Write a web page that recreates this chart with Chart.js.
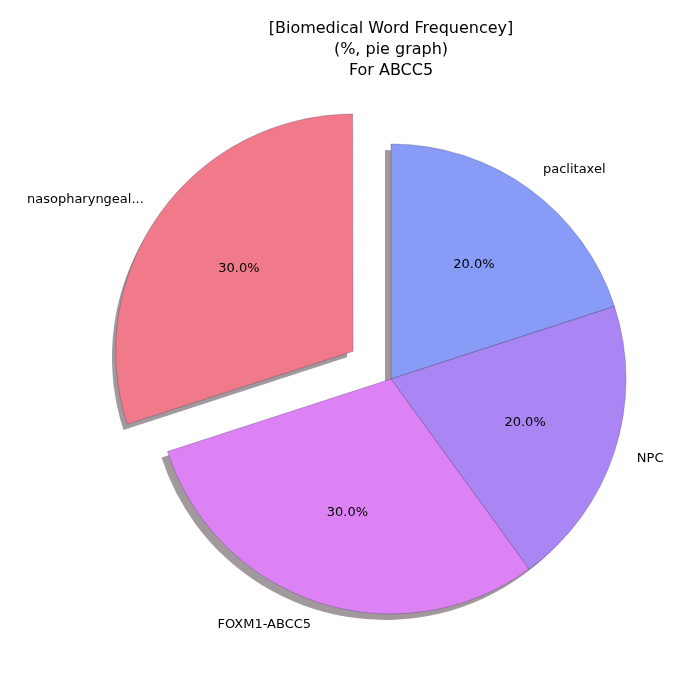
<!DOCTYPE html>
<html>
<head>
<meta charset="utf-8">
<script src="https://cdn.jsdelivr.net/npm/chart.js@4"></script>
<style>
  body { margin: 0; background: #fff; }
  #wrap { width: 700px; height: 700px; }
</style>
</head>
<body>
<div id="wrap"><canvas id="myChart" width="700" height="700"></canvas></div>
<script>
var categories = ["paclitaxel", "NPC", "FOXM1-ABCC5", "nasopharyngeal..."];
var shares = [20, 20, 30, 30];
// Chart.js moves an arc by offset/4, so 188 -> 47px
var explode = [0, 0, 0, 188];
var sliceColors = ['#879bf7', '#aa86f4', '#dd82f4', '#f07a8a'];
var titleLines = ["[Biomedical Word Frequencey]", "(%, pie graph)", "For ABCC5"];

var FONT = '"DejaVu Sans", sans-serif';

function sliceGeom(el) {
  var mid = (el.startAngle + el.endAngle) / 2;
  var off = (el.options.offset || 0) / 4;
  return {
    cx: el.x + Math.cos(mid) * off,
    cy: el.y + Math.sin(mid) * off,
    mid: mid, r: el.outerRadius
  };
}

var pieExtras = {
  id: 'pieExtras',
  beforeDatasetsDraw: function(chart) {
    var ctx = chart.ctx;
    var arcs = chart.getDatasetMeta(0).data;
    ctx.save();
    ctx.fillStyle = 'rgba(100,85,95,0.6)';
    arcs.forEach(function(el) {
      var g = sliceGeom(el);
      ctx.beginPath();
      ctx.moveTo(g.cx - 6, g.cy + 6);
      ctx.arc(g.cx - 6, g.cy + 6, g.r, el.startAngle, el.endAngle);
      ctx.closePath();
      ctx.fill();
    });
    ctx.restore();
  },
  afterDatasetsDraw: function(chart) {
    var ctx = chart.ctx;
    var arcs = chart.getDatasetMeta(0).data;
    var total = shares.reduce(function(a, b) { return a + b; }, 0);
    ctx.save();
    ctx.fillStyle = '#000';
    ctx.font = '13px ' + FONT;
    ctx.textBaseline = 'middle';
    arcs.forEach(function(el, i) {
      var g = sliceGeom(el);
      var c = Math.cos(g.mid), s = Math.sin(g.mid);
      ctx.textAlign = 'center';
      ctx.fillText((shares[i] / total * 100).toFixed(1) + '%', g.cx + c * g.r * 0.6, g.cy + s * g.r * 0.6);
      ctx.textAlign = c < 0 ? 'right' : 'left';
      ctx.fillText(categories[i], g.cx + c * g.r * 1.1, g.cy + s * g.r * 1.1);
    });
    ctx.font = '16px ' + FONT;
    ctx.textAlign = 'center';
    titleLines.forEach(function(t, k) {
      ctx.fillText(t, 391, 29 + k * 21);
    });
    ctx.restore();
  }
};

new Chart(document.getElementById('myChart'), {
  type: 'pie',
  data: {
    labels: categories,
    datasets: [{
      data: shares,
      backgroundColor: sliceColors,
      borderColor: 'rgba(60,50,90,0.6)',
      borderWidth: 0.5,
      offset: explode
    }]
  },
  options: {
    responsive: false,
    animation: false,
    radius: 235,
    layout: { padding: { left: 82, top: 58, right: 0, bottom: 0 } },
    plugins: { legend: { display: false }, tooltip: { enabled: false }, title: { display: false } }
  },
  plugins: [pieExtras]
});
</script>
</body>
</html>
